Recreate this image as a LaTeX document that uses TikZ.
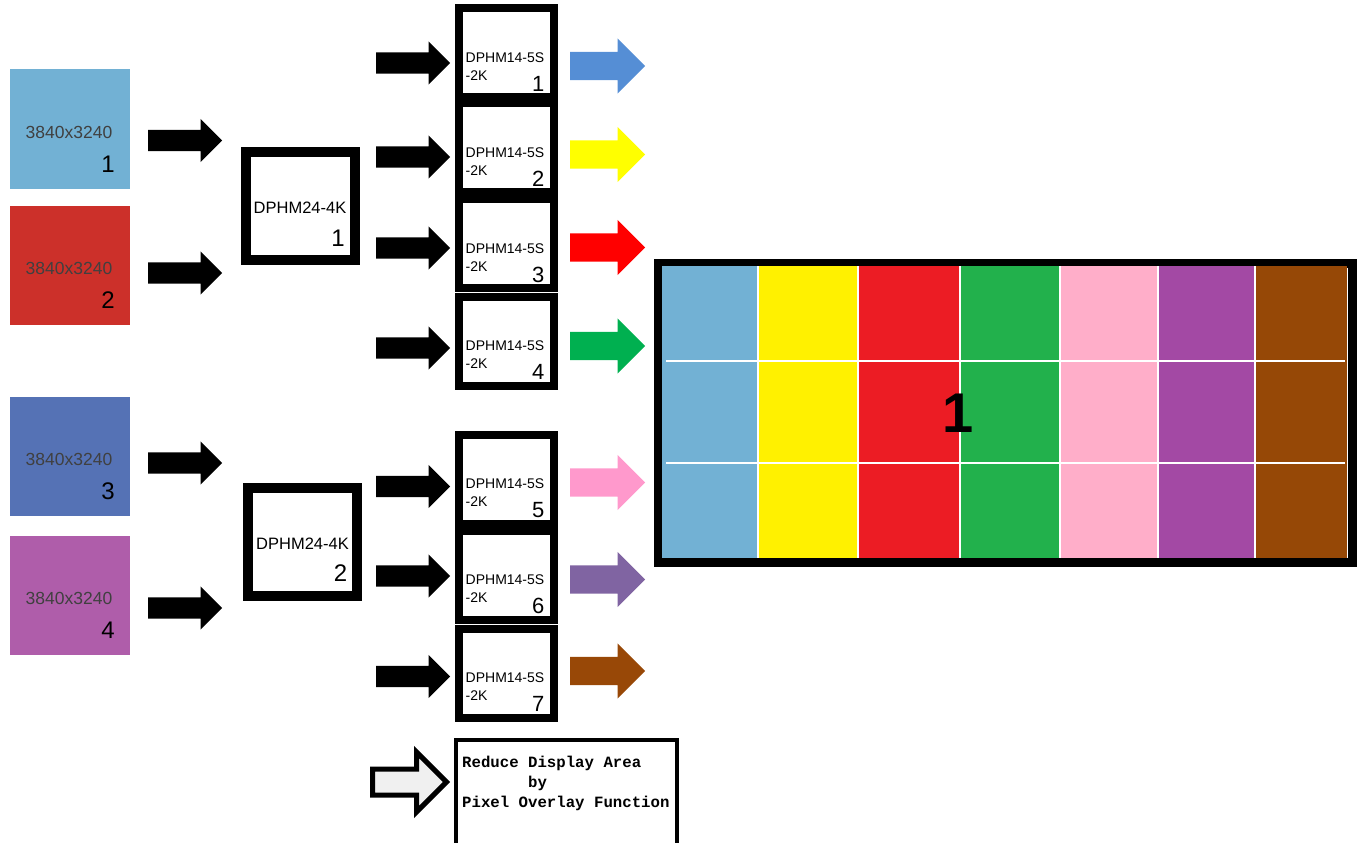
\documentclass[tikz,border=0pt]{standalone}
\usepackage{fontspec}
\setmainfont{Liberation Sans}
\newfontfamily\notefont{Liberation Mono}
\usetikzlibrary{shapes.arrows}

\definecolor{srcblue}{HTML}{72B1D4}
\definecolor{srcred}{HTML}{CC302A}
\definecolor{srcnavy}{HTML}{5572B5}
\definecolor{srcmauve}{HTML}{AF5DAA}
\definecolor{arrblue}{HTML}{558ED5}
\definecolor{arryellow}{HTML}{FFFF00}
\definecolor{arrred}{HTML}{FF0000}
\definecolor{arrgreen}{HTML}{00B050}
\definecolor{arrpink}{HTML}{FF99CC}
\definecolor{arrpurple}{HTML}{8064A2}
\definecolor{arrbrown}{HTML}{984807}
\definecolor{scrblue}{HTML}{72B1D4}
\definecolor{scryellow}{HTML}{FFF100}
\definecolor{scrred}{HTML}{EC1C24}
\definecolor{scrgreen}{HTML}{22B14C}
\definecolor{scrpink}{HTML}{FFAEC9}
\definecolor{scrpurple}{HTML}{A349A4}
\definecolor{scrbrown}{HTML}{964806}

\tikzset{
  srcbox/.style={minimum width=120pt, minimum height=119pt, inner sep=0pt},
  hub/.style={draw, line width=10pt, fill=white, minimum width=109pt, minimum height=108pt, inner sep=0pt},
  splitter/.style={draw, line width=8pt, fill=white, minimum width=95pt, minimum height=89pt, inner sep=0pt},
  feed/.style={single arrow, anchor=tail, fill=black, inner xsep=0pt, inner ysep=10.5pt, minimum width=43pt,
               minimum height=74pt, single arrow head extend=11pt},
  outarrow/.style={single arrow, anchor=tail, inner xsep=0pt, inner ysep=14pt, minimum width=55pt,
                   minimum height=75pt, single arrow head extend=13.5pt},
  restxt/.style={inner sep=0pt, text=black!75, font=\fontsize{17.5}{19}\selectfont},
  bignum/.style={inner sep=0pt, anchor=east, font=\fontsize{24}{26}\selectfont},
  model/.style={inner sep=0pt, anchor=west, font=\fontsize{14}{16}\selectfont},
  notetxt/.style={inner sep=0pt, anchor=base west, font=\notefont\bfseries\fontsize{15.7}{20}\selectfont}
}

\begin{document}
\begin{tikzpicture}[x=1pt, y=-1pt]
  \useasboundingbox (0,0) rectangle (1363,843);

  % Quellen 3840x3240 und Pfeile zu den Hubs
  \foreach \i/\py/\ay/\c in {1/129/140.5/srcblue, 2/265.5/273/srcred, 3/456.5/463/srcnavy, 4/595.5/608/srcmauve}{
    \node[srcbox, fill=\c] (src\i) at (70,\py) {};
    \node[restxt] (res\i) at ([xshift=-1pt,yshift=-3pt]src\i.center) {3840x3240};
    \node[bignum] (srcnum\i) at ([xshift=45pt,yshift=-35pt]src\i.center) {\i};
    \node[feed] (feed\i) at (148,\ay) {};
  }

  % DPHM24-4K
  \foreach \i/\px/\py in {1/300/206, 2/302.5/541.5}{
    \node[hub] (hub\i) at (\px,\py) {};
    \node[inner sep=0pt, font=\fontsize{16.5}{18}\selectfont] (hubname\i) at ([yshift=-2pt]hub\i.center) {DPHM24-4K};
    \node[bignum] (hubnum\i) at ([xshift=45pt,yshift=-32pt]hub\i.center) {\i};
  }

  % DPHM14-5S-2K mit Ein- und Ausgangspfeilen
  \foreach \i/\py/\iy/\oy/\c in {1/52.5/63/66/arrblue, 2/147.5/157/154.5/arryellow, 3/243.5/248/247.5/arrred,
                                 4/341/348/346/arrgreen, 5/479/486.5/482.5/arrpink, 6/575/576/579.5/arrpurple,
                                 7/673/676.5/671/arrbrown}{
    \node[feed] (in\i) at (376,\iy) {};
    \node[splitter] (split\i) at (506.5,\py) {};
    \node[model] (name\i) at ([xshift=-41pt,yshift=-5pt]split\i.center) {DPHM14-5S};
    \node[model] (suffix\i) at ([xshift=-41pt,yshift=-23pt]split\i.center) {-2K};
    \node[bignum, font=\fontsize{22}{24}\selectfont] (splitnum\i) at ([xshift=38pt,yshift=-31pt]split\i.center) {\i};
    \node[outarrow, fill=\c] (out\i) at (570,\oy) {};
  }

  % Leinwand 7x3
  \draw[line width=9pt] (658.5,263.5) rectangle (1352.5,562.5);
  \foreach \xa/\xb/\c in {662/758/scrblue, 758/858/scryellow, 858/960/scrred, 960/1060/scrgreen,
                          1060/1158/scrpink, 1158/1255/scrpurple, 1255/1347/scrbrown}
    \fill[\c] (\xa,266) rectangle (\xb,558);
  \foreach \xx in {758,858,960,1060,1158,1255}
    \draw[white, line width=2pt] (\xx,266) -- (\xx,558);
  \foreach \yy in {361,463}
    \draw[white, line width=2pt] (666,\yy) -- (1345,\yy);
  \node[inner sep=0pt, font=\bfseries\fontsize{56}{60}\selectfont] (screennum) at (958,413) {1};

  % Hinweis
  \node[single arrow, anchor=tail, draw, line width=5pt, fill=black!6, inner xsep=0pt, inner ysep=10.5pt,
        minimum width=55pt, minimum height=74pt, single arrow head extend=17pt] (reduce) at (370,782) {};
  \node[draw, line width=4pt, anchor=north west, minimum width=221pt, minimum height=130pt] (note) at (454,738) {};
  \node[notetxt] (note1) at (462,767) {Reduce Display Area};
  \node[notetxt] (note2) at (528,787) {by};
  \node[notetxt] (note3) at (462,807) {Pixel Overlay Function};
\end{tikzpicture}
\end{document}
